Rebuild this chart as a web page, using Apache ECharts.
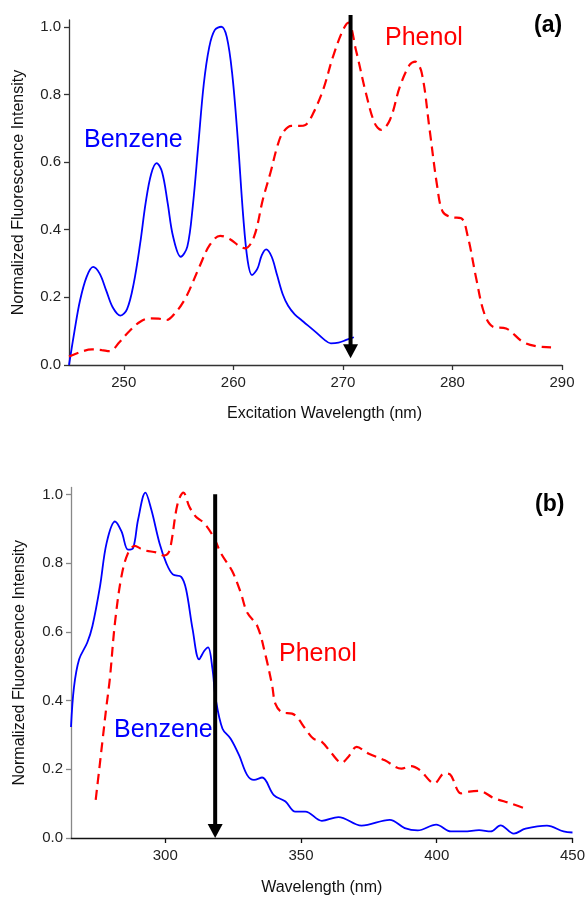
<!DOCTYPE html>
<html>
<head>
<meta charset="utf-8">
<script src="https://cdn.jsdelivr.net/npm/echarts@6/dist/echarts.min.js"></script>
<style>
html,body{margin:0;padding:0;background:#fff;}
#chart{width:588px;height:897px;}
</style>
</head>
<body>
<div id="chart"></div>
<script>
// Panel (a): excitation spectra
var benzeneAX = [245.0,245.5,246.0,246.6,247.2,247.8,248.4,249.0,249.7,250.3,250.9,251.5,252.0,252.5,253.0,253.5,254.0,254.5,255.2,255.8,256.3,256.8,257.3,257.8,258.3,258.9,259.4,259.9,260.4,260.9,261.3,261.7,262.2,262.6,263.0,263.5,264.0,264.5,265.0,265.6,266.4,267.5,268.3,268.9,269.6,270.3,271.0];
var benzeneAY = [0.0,0.10,0.19,0.26,0.29,0.27,0.22,0.17,0.146,0.165,0.24,0.36,0.48,0.565,0.597,0.57,0.48,0.38,0.32,0.35,0.47,0.65,0.83,0.94,0.99,1.0,0.97,0.86,0.67,0.44,0.31,0.266,0.285,0.325,0.342,0.32,0.265,0.21,0.175,0.15,0.128,0.098,0.075,0.064,0.066,0.074,0.082];
var phenolAX = [245.0,246.0,247.1,248.0,248.7,249.6,250.5,251.5,252.4,253.2,253.9,254.8,255.5,256.0,256.9,257.85,258.8,259.7,260.6,261.1,261.9,262.7,263.4,264.0,264.5,265.3,266.0,266.6,267.3,268.2,269.1,270.0,270.5,271.2,272.1,272.9,273.5,274.3,275.2,276.1,276.6,277.2,277.9,278.6,279.1,279.9,280.8,281.4,282.2,282.9,283.7,284.9,286.4,287.6,289.0];
var phenolAY = [0.025,0.038,0.046,0.044,0.041,0.067,0.10,0.128,0.138,0.137,0.133,0.158,0.19,0.222,0.29,0.355,0.382,0.372,0.35,0.345,0.38,0.49,0.57,0.645,0.686,0.707,0.707,0.71,0.745,0.814,0.912,0.99,1.012,0.93,0.804,0.715,0.695,0.725,0.823,0.888,0.897,0.863,0.70,0.53,0.454,0.437,0.434,0.38,0.251,0.153,0.113,0.108,0.069,0.056,0.052];
var ticksAX = [250,260,270,280,290];
var arrowA = [270.7, 1.035, 0.02];   // x, top value, tip value

// Panel (b): emission spectra
var benzeneBX = [265.3,266.4,268.3,271.3,273.2,276.0,278.4,281.5,283.9,286.3,288.2,290.0,292.7,294.9,297.9,300.4,302.8,305.9,307.7,310.1,312.5,314.4,315.8,317.4,318.6,321.1,324.1,327.2,330.2,332.7,335.7,340.0,344.3,347.9,351.6,357.7,363.8,372.3,382.7,388.2,393.0,399.8,405.2,410.1,415.6,419.9,423.5,428.4,432.7,440.6,446.7,450.0];
var benzeneBY = [0.323,0.439,0.52,0.569,0.617,0.733,0.858,0.921,0.892,0.839,0.844,0.926,1.005,0.955,0.858,0.80,0.767,0.76,0.723,0.607,0.52,0.545,0.555,0.492,0.405,0.318,0.289,0.241,0.183,0.169,0.176,0.125,0.106,0.077,0.077,0.05,0.061,0.036,0.053,0.029,0.022,0.039,0.019,0.019,0.023,0.019,0.037,0.013,0.027,0.036,0.019,0.016];
var phenolBX = [274.4,275.7,277.0,278.3,279.6,281.5,283.9,286.3,288.8,291.0,293.0,296.7,299.5,301.2,302.2,304.6,306.7,308.9,311.3,314.4,318.0,320.5,324.7,327.8,330.2,333.9,337.0,339.4,340.6,343.0,346.7,348.5,351.6,354.6,357.7,361.3,365.0,367.4,370.5,374.8,380.9,387.0,390.6,393.7,399.2,402.8,404.9,408.9,412.0,415.6,421.1,427.2,432.1];
var phenolBY = [0.111,0.20,0.29,0.38,0.463,0.627,0.762,0.829,0.85,0.842,0.836,0.831,0.822,0.83,0.858,0.974,1.005,0.964,0.935,0.916,0.873,0.829,0.776,0.714,0.656,0.617,0.53,0.443,0.39,0.366,0.362,0.352,0.318,0.289,0.28,0.246,0.219,0.236,0.265,0.246,0.226,0.202,0.209,0.198,0.159,0.188,0.185,0.13,0.135,0.137,0.116,0.101,0.087];
var ticksBX = [300,350,400,450];
var arrowB = [318.4, 1.0, 0.0];

var ticksY = [0,0.2,0.4,0.6,0.8,1.0];

function zip(xs, ys){ return xs.map(function(x,i){ return [x, ys[i]]; }); }

var font = 'Liberation Sans, Arial, sans-serif';
var BLUE = '#0000ff', RED = '#ff0000';

function xAxisCfg(idx, min, max, ticks, name, gap, lineColor, nameShift){
  return {
    type:'value', gridIndex: idx, min:min, max:max,
    name:name, nameLocation:'middle', nameGap:gap,
    nameTextStyle:{fontFamily:font, fontSize:16, color:'#111', padding:[0,0,0,nameShift]},
    axisLine:{show:true, onZero:false, lineStyle:{color:lineColor, width:1.3}},
    axisTick:{show:true, length:5, customValues:ticks, lineStyle:{color:lineColor, width:1.3}},
    axisLabel:{customValues:ticks, fontFamily:font, fontSize:15, color:'#222', margin:10},
    splitLine:{show:false}
  };
}
function yAxisCfg(idx, lineColor, gap){
  return {
    type:'value', gridIndex: idx, min:0, max:1.02,
    name:'Normalized Fluorescence Intensity', nameLocation:'middle', nameGap:gap,
    nameTextStyle:{fontFamily:font, fontSize:16, color:'#111'},
    axisLine:{show:true, lineStyle:{color:lineColor, width:1.3}},
    axisTick:{show:true, length:5, customValues:ticksY, lineStyle:{color:lineColor, width:1.3}},
    axisLabel:{customValues:ticksY, fontFamily:font, fontSize:15, color:'#222', margin:8,
      formatter:function(v){ return v.toFixed(1); }},
    splitLine:{show:false}
  };
}

function renderArrow(params, api){
  var top = api.coord([api.value(0), api.value(1)]);
  var tip = api.coord([api.value(0), api.value(2)]);
  var hw = 7.5, hh = 14;
  return {
    type:'group',
    children:[
      {type:'line', shape:{x1:top[0], y1:top[1], x2:tip[0], y2:tip[1]-hh+1},
        style:{stroke:'#000', lineWidth:4}},
      {type:'polygon', shape:{points:[[tip[0]-hw, tip[1]-hh],[tip[0]+hw, tip[1]-hh],[tip[0], tip[1]]]},
        style:{fill:'#000'}}
    ]
  };
}

var chart = echarts.init(document.getElementById('chart'), null, {renderer:'canvas'});
chart.setOption({
  animation:false,
  backgroundColor:'#fff',
  grid:[
    {left:69, top:20, width:493, height:345},
    {left:71, top:487.5, width:504.7, height:352.5}
  ],
  xAxis:[
    xAxisCfg(0, 245, 290, ticksAX, 'Excitation Wavelength (nm)', 41, '#333', 18),
    xAxisCfg(1, 265.3, 450, ticksBX, 'Wavelength (nm)', 42, '#111', 0)
  ],
  yAxis:[
    yAxisCfg(0, '#333', 42),
    yAxisCfg(1, '#888', 43)
  ],
  series:[
    {type:'line', xAxisIndex:0, yAxisIndex:0, data:zip(benzeneAX, benzeneAY), smooth:0.35, showSymbol:false, clip:false,
      lineStyle:{color:BLUE, width:1.8}},
    {type:'line', xAxisIndex:0, yAxisIndex:0, data:zip(phenolAX, phenolAY), smooth:0.35, showSymbol:false, clip:false,
      lineStyle:{color:RED, width:2.2, type:[10,6]}},
    {type:'line', xAxisIndex:1, yAxisIndex:1, data:zip(benzeneBX, benzeneBY), smooth:0.35, showSymbol:false, clip:false,
      lineStyle:{color:BLUE, width:1.8}},
    {type:'line', xAxisIndex:1, yAxisIndex:1, data:zip(phenolBX, phenolBY), smooth:0.35, showSymbol:false, clip:false,
      lineStyle:{color:RED, width:2.2, type:[10,6]}},
    {type:'custom', xAxisIndex:0, yAxisIndex:0, data:[arrowA], renderItem:renderArrow, clip:false, silent:true, z:5},
    {type:'custom', xAxisIndex:1, yAxisIndex:1, data:[arrowB], renderItem:renderArrow, clip:false, silent:true, z:5}
  ],
  graphic:[
    {type:'text', left:84, top:128, style:{text:'Benzene', fontFamily:font, fontSize:25, fill:BLUE}},
    {type:'text', left:385, top:26, style:{text:'Phenol', fontFamily:font, fontSize:25, fill:RED}},
    {type:'text', left:534, top:14, style:{text:'(a)', fontFamily:font, fontSize:23, fontWeight:'bold', fill:'#000'}},
    {type:'text', left:114, top:718, style:{text:'Benzene', fontFamily:font, fontSize:25, fill:BLUE}},
    {type:'text', left:279, top:642, style:{text:'Phenol', fontFamily:font, fontSize:25, fill:RED}},
    {type:'text', left:535, top:493, style:{text:'(b)', fontFamily:font, fontSize:23, fontWeight:'bold', fill:'#000'}}
  ]
});
</script>
</body>
</html>
